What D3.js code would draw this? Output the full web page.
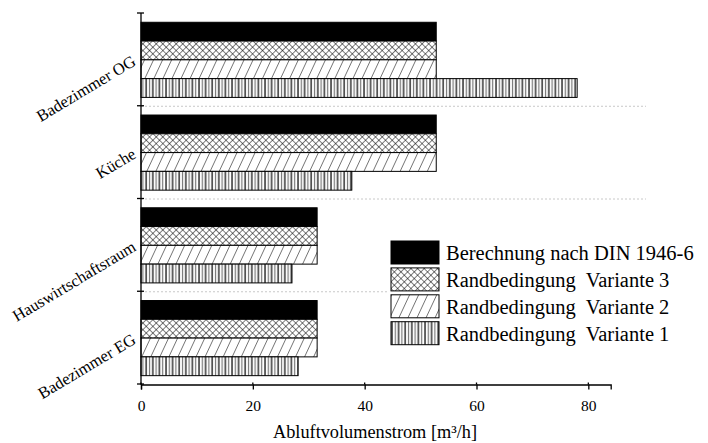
<!DOCTYPE html>
<meta charset="utf-8">
<script src="https://d3js.org/d3.v7.min.js"></script>
<style>
  body { margin: 0; background: #fff; }
  svg { font-family: "Liberation Serif", "Times New Roman", serif; }
  .grid { stroke: #c8c8c8; stroke-dasharray: 2,2; }
  .bar { stroke: #000; stroke-width: 1; }
</style>
<svg id="chart" width="708" height="443"></svg>
<script>
// categories top to bottom
var rooms = ["Badezimmer OG", "Küche", "Hauswirtschaftsraum", "Badezimmer EG"]
var seriesNames = ["Berechnung nach DIN 1946-6", "Randbedingung  Variante 3", "Randbedingung  Variante 2", "Randbedingung  Variante 1"]
// values in m³/h, same order as rooms
var din = [52.8, 52.8, 31.5, 31.5]
var variante3 = [52.8, 52.8, 31.5, 31.5]
var variante2 = [52.8, 52.8, 31.5, 31.5]
var variante1 = [78.0, 37.7, 27.0, 28.1]
var majorTicks = [0, 20, 40, 60, 80]
var minorTicks = d3.range(0, 85, 4)
var fills = ["#000", "url(#cross)", "url(#diag)", "url(#vert)"]

var seriesValues = [din, variante3, variante2, variante1]

var svg = d3.select("#chart")

// hatch patterns
var defs = svg.append("defs")

var p = defs.append("pattern").attr("id", "cross")
  .attr("patternUnits", "userSpaceOnUse")
  .attr("width", 4.7).attr("height", 4.7)
  .attr("patternTransform", "rotate(45)")
p.append("rect").attr("width", 4.7).attr("height", 4.7).attr("fill", "#fff")
p.append("line").attr("x1", 0).attr("y1", 0).attr("x2", 0).attr("y2", 4.7).attr("stroke", "#000").attr("stroke-width", 1)
p.append("line").attr("x1", 0).attr("y1", 0).attr("x2", 4.7).attr("y2", 0).attr("stroke", "#000").attr("stroke-width", 1)

p = defs.append("pattern").attr("id", "diag")
  .attr("patternUnits", "userSpaceOnUse")
  .attr("width", 8.2).attr("height", 8.2)
  .attr("patternTransform", "rotate(25)")
p.append("rect").attr("width", 8.2).attr("height", 8.2).attr("fill", "#fff")
p.append("line").attr("x1", 0).attr("y1", 0).attr("x2", 0).attr("y2", 8.2).attr("stroke", "#000").attr("stroke-width", 1)

p = defs.append("pattern").attr("id", "vert")
  .attr("patternUnits", "userSpaceOnUse")
  .attr("width", 6.6).attr("height", 10)
p.append("rect").attr("width", 6.6).attr("height", 10).attr("fill", "#fff")
p.append("line").attr("x1", 1).attr("y1", 0).attr("x2", 1).attr("y2", 10).attr("stroke", "#000").attr("stroke-width", 1.2)
p.append("line").attr("x1", 4.3).attr("y1", 0).attr("x2", 4.3).attr("y2", 10).attr("stroke", "#777").attr("stroke-width", 1.2)

var x = d3.scaleLinear().domain([0, 84]).range([141, 610.7])
var y = d3.scaleBand().domain(rooms).range([13, 384])
var inner = d3.scaleBand().domain(seriesNames)
  .range([y.bandwidth() * 0.1, y.bandwidth() * 0.91])

// dotted separators between rooms
svg.selectAll(".grid").data(rooms.slice(1)).enter().append("line")
  .attr("class", "grid")
  .attr("x1", x(0)).attr("x2", 646)
  .attr("y1", d => y(d) + 0.5).attr("y2", d => y(d) + 0.5)

// bars
seriesNames.forEach(function(s, si) {
  svg.append("g").selectAll("rect").data(rooms).enter().append("rect")
    .attr("class", "bar")
    .attr("x", x(0))
    .attr("y", (d, i) => y(d) + inner(s))
    .attr("width", (d, i) => x(seriesValues[si][i]) - x(0))
    .attr("height", inner.bandwidth())
    .attr("fill", fills[si])
})

// x axis
var xAxis = svg.append("g").attr("transform", "translate(0," + 384.5 + ")")
xAxis.call(d3.axisBottom(x).tickValues(minorTicks).tickSize(3).tickFormat(""))
xAxis.call(d3.axisBottom(x).tickValues(majorTicks).tickSize(5).tickPadding(10))
xAxis.selectAll(".domain").attr("stroke-width", 1.3)
xAxis.selectAll("line").attr("stroke-width", 1.3)
xAxis.selectAll("text").attr("font-size", 15.5).attr("font-family", "Liberation Serif, serif").attr("fill", "#000")
// short upward part of major ticks
xAxis.selectAll(".up").data(majorTicks).enter().append("line")
  .attr("x1", d => x(d)).attr("x2", d => x(d)).attr("y1", -2).attr("y2", 0)
  .attr("stroke", "#000").attr("stroke-width", 1.3)

svg.append("text")
  .attr("x", 375).attr("y", 438)
  .attr("text-anchor", "middle").attr("font-size", 18.3)
  .text("Abluftvolumenstrom [m³/h]")

// y axis with crossing ticks on band edges
var edges = rooms.map(d => y(d)).concat([y.range()[1]])
svg.append("line").attr("x1", x(0)).attr("x2", x(0)).attr("y1", 13).attr("y2", 384.5)
  .attr("stroke", "#000").attr("stroke-width", 1.3)
svg.selectAll(".ytick").data(edges).enter().append("line")
  .attr("x1", x(0) - 4).attr("x2", x(0) + 3)
  .attr("y1", d => d).attr("y2", d => d)
  .attr("stroke", "#000").attr("stroke-width", 1.3)

// rotated room labels
svg.selectAll(".ylabel").data(rooms).enter().append("text")
  .attr("transform", d => "translate(137," + (y(d) + y.bandwidth() / 2 + 5) + ") rotate(-31)")
  .attr("text-anchor", "end").attr("font-size", 16.5)
  .text(d => d)

// legend
var legend = svg.append("g")
legend.append("rect").attr("x", 387).attr("y", 236).attr("width", 321).attr("height", 112).attr("fill", "#fff")
var row = legend.selectAll(".row").data(seriesNames).enter().append("g")
  .attr("transform", (d, i) => "translate(391," + (241 + i * 26.9) + ")")
row.append("rect").attr("class", "bar")
  .attr("width", 48).attr("height", 23)
  .attr("fill", (d, i) => fills[i])
row.append("text")
  .attr("x", 55).attr("y", 19)
  .attr("font-size", 20.5)
  .style("white-space", "pre")
  .text(d => d)
</script>
